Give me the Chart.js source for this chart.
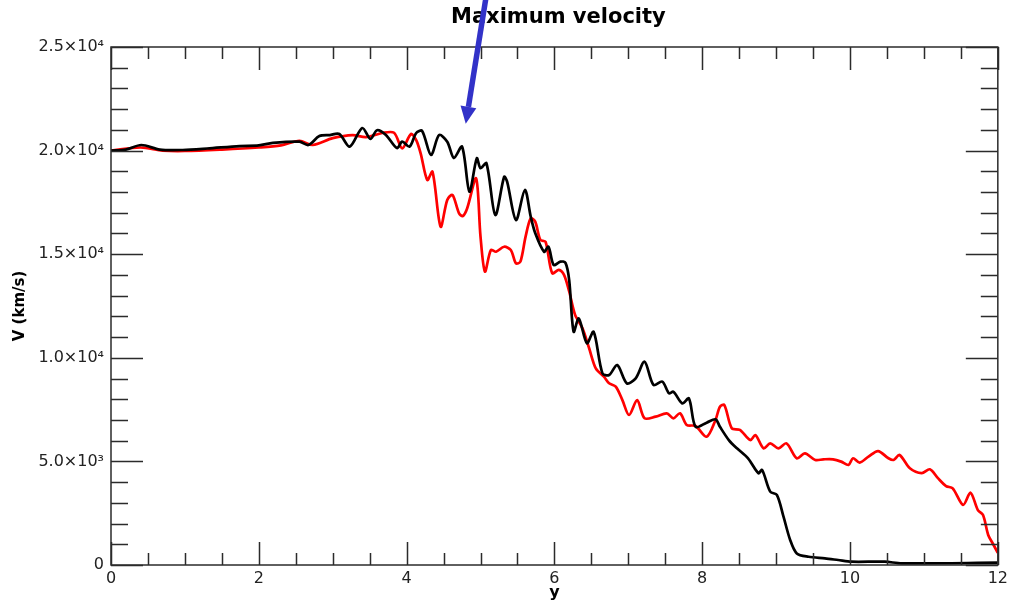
<!DOCTYPE html>
<html>
<head>
<meta charset="utf-8">
<script src="https://cdn.jsdelivr.net/npm/chart.js@4"></script>
<style>
  html, body { margin: 0; padding: 0; background: #fff; overflow: hidden; }
  canvas { display: block; }
</style>
</head>
<body>
<canvas id="velChart" width="1012" height="603"></canvas>
<script>
// ── DATA ──────────────────────────────────────────────────────────────────
const blackY = [0, 0.2, 0.41, 0.66, 0.97, 1.3, 1.74, 2.0, 2.19, 2.55, 2.67, 2.82, 2.96, 3.09, 3.23, 3.4, 3.51, 3.6,
    3.72, 3.87, 3.94, 4.04, 4.13, 4.21, 4.33, 4.44, 4.55, 4.64, 4.75, 4.85, 4.95, 5.0, 5.08, 5.2, 5.32, 5.36,
    5.48, 5.6, 5.68, 5.74, 5.86, 5.92, 5.99, 6.08, 6.15, 6.2, 6.26, 6.33, 6.44, 6.53, 6.65, 6.74, 6.85, 6.98,
    7.1, 7.22, 7.34, 7.46, 7.55, 7.61, 7.73, 7.82, 7.91, 8.06, 8.18, 8.24, 8.36, 8.47, 8.62, 8.76, 8.81, 8.92,
    9.01, 9.1, 9.19, 9.28, 9.44, 9.66, 9.84, 10.02, 10.47, 10.7, 12.0];
const blackV = [20000, 20050, 20270, 20050, 20030, 20100, 20220, 20250, 20370, 20430, 20270, 20700, 20750, 20800, 20190, 21090, 20560, 20980,
    20750, 20120, 20430, 20190, 20850, 20950, 19790, 20750, 20430, 19640, 20190, 18020, 19630, 19150, 19390, 16890, 18740, 18500,
    16650, 18100, 16810, 16020, 15120, 15360, 14480, 14640, 14580, 13750, 11260, 11900, 10700, 11260, 9250, 9170, 9650, 8770,
    9010, 9810, 8690, 8850, 8290, 8360, 7800, 8040, 6670, 6870, 7030, 6670, 6030, 5630, 5150, 4430, 4590, 3540,
    3380, 2330, 1210, 560, 400, 320, 240, 160, 160, 80, 110];

const redY = [0, 0.4, 0.7, 1.0, 1.5, 2.0, 2.3, 2.55, 2.73, 3.0, 3.27, 3.45, 3.67, 3.83, 3.94, 4.06, 4.13, 4.19, 4.28,
    4.35, 4.46, 4.55, 4.62, 4.71, 4.76, 4.82, 4.94, 5.0, 5.06, 5.14, 5.21, 5.32, 5.41, 5.48, 5.54, 5.61, 5.68,
    5.74, 5.81, 5.88, 5.97, 6.06, 6.13, 6.2, 6.28, 6.38, 6.47, 6.56, 6.67, 6.74, 6.83, 6.92, 7.01, 7.12, 7.22,
    7.37, 7.52, 7.61, 7.7, 7.79, 7.91, 8.06, 8.18, 8.24, 8.3, 8.4, 8.51, 8.65, 8.72, 8.83, 8.92, 9.03, 9.14,
    9.28, 9.39, 9.53, 9.64, 9.77, 9.88, 9.98, 10.04, 10.13, 10.25, 10.38, 10.52, 10.59, 10.67, 10.81, 10.97,
    11.08, 11.19, 11.3, 11.39, 11.53, 11.63, 11.73, 11.8, 11.87, 11.93, 12.0];
const redV = [20000, 20150, 20000, 19980, 20050, 20150, 20250, 20470, 20270, 20600, 20750, 20650, 20850, 20860, 20110, 20800, 20510, 19870, 18580,
    18980, 16330, 17620, 17860, 16970, 16840, 17220, 18660, 15850, 14160, 15200, 15120, 15360, 15200, 14560, 14640, 15850, 16730,
    16570, 15690, 15600, 14080, 14240, 14000, 13200, 12070, 11420, 10460, 9490, 9090, 8770, 8610, 7960, 7240, 7960, 7080,
    7160, 7320, 7080, 7320, 6760, 6710, 6190, 7000, 7640, 7720, 6600, 6520, 6030, 6270, 5630, 5870, 5630, 5870,
    5150, 5390, 5070, 5100, 5100, 4990, 4830, 5150, 4940, 5230, 5500, 5150, 5070, 5310, 4670, 4430,
    4620, 4190, 3810, 3700, 2900, 3490, 2650, 2410, 1450, 1050, 590];

const xTicks = [0, 2, 4, 6, 8, 10, 12];
const vTicks = [0, 5000, 10000, 15000, 20000, 25000];

const titleText = 'Maximum velocity';

// arrow annotation: tip and tail in data units
const arrowTip = { y: 4.8, v: 21300 };
const arrowTail = { y: 5.07, v: 27300 };

// ── HELPERS ───────────────────────────────────────────────────────────────
const SUP = { '0': '⁰', '1': '¹', '2': '²', '3': '³', '4': '⁴', '5': '⁵', '6': '⁶', '7': '⁷', '8': '⁸', '9': '⁹' };

function sciLabel(v) {
    if (v === 0) return '0';
    const e = Math.floor(Math.log10(v));
    const m = (v / Math.pow(10, e)).toFixed(1);
    return m + '×10' + String(e).split('').map(c => SUP[c]).join('');
}

const toPoints = (xs, vs) => xs.map((x, i) => ({ x: x, y: vs[i] }));

// frame with inward ticks on all four sides, title over the plot, blue arrow
const framePlugin = {
    id: 'frame',
    afterDatasetsDraw(chart) {
        const { ctx, chartArea: a, scales: { x, y } } = chart;
        ctx.save();
        ctx.strokeStyle = '#2b2b2b';
        ctx.lineWidth = 1.5;
        ctx.strokeRect(a.left, a.top, a.right - a.left, a.bottom - a.top);
        ctx.beginPath();
        for (let t = 0; t <= 12; t += 0.5) {
            const px = Math.round(x.getPixelForValue(t)) + 0.5;
            const len = (t % 2 === 0) ? 23 : 12;
            ctx.moveTo(px, a.bottom); ctx.lineTo(px, a.bottom - len);
            ctx.moveTo(px, a.top); ctx.lineTo(px, a.top + len);
        }
        for (let t = 0; t <= 25000; t += 1000) {
            const py = Math.round(y.getPixelForValue(t)) + 0.5;
            const len = (t % 5000 === 0) ? 32 : 17;
            ctx.moveTo(a.left, py); ctx.lineTo(a.left + len, py);
            ctx.moveTo(a.right, py); ctx.lineTo(a.right - len, py);
        }
        ctx.stroke();
        ctx.restore();
    },
    afterDraw(chart) {
        const { ctx, chartArea: a, scales: { x, y } } = chart;

        ctx.save();
        ctx.fillStyle = '#000';
        ctx.font = "bold 21px 'DejaVu Sans', sans-serif";
        ctx.textAlign = 'center';
        ctx.textBaseline = 'middle';
        ctx.fillText(titleText, (a.left + a.right) / 2 + 4, 18);
        ctx.restore();

        const tx = x.getPixelForValue(arrowTip.y), ty = y.getPixelForValue(arrowTip.v);
        const sx = x.getPixelForValue(arrowTail.y), sy = y.getPixelForValue(arrowTail.v);
        const ang = Math.atan2(ty - sy, tx - sx);
        const headLen = 17, headHalf = 8;
        const bx = tx - headLen * Math.cos(ang), by = ty - headLen * Math.sin(ang);
        ctx.save();
        ctx.strokeStyle = '#3232c8';
        ctx.fillStyle = '#3232c8';
        ctx.lineWidth = 5.5;
        ctx.beginPath();
        ctx.moveTo(sx, sy);
        ctx.lineTo(bx, by);
        ctx.stroke();
        ctx.beginPath();
        ctx.moveTo(tx, ty);
        ctx.lineTo(bx + headHalf * Math.sin(ang), by - headHalf * Math.cos(ang));
        ctx.lineTo(bx - headHalf * Math.sin(ang), by + headHalf * Math.cos(ang));
        ctx.closePath();
        ctx.fill();
        ctx.restore();
    }
};

// ── CHART ─────────────────────────────────────────────────────────────────
Chart.defaults.font.family = "'DejaVu Sans', sans-serif";
Chart.defaults.color = '#222';

new Chart(document.getElementById('velChart').getContext('2d'), {
    type: 'line',
    data: {
        datasets: [
            {
                label: 'black',
                data: toPoints(blackY, blackV),
                borderColor: '#000000',
                borderWidth: 2.7,
                pointRadius: 0,
                tension: 0.3,
                fill: false
            },
            {
                label: 'red',
                data: toPoints(redY, redV),
                borderColor: '#ff0000',
                borderWidth: 2.7,
                pointRadius: 0,
                tension: 0.3,
                fill: false
            }
        ]
    },
    options: {
        responsive: false,
        animation: false,
        layout: { padding: { top: 47, right: 12, left: 0, bottom: 0 } },
        plugins: {
            legend: { display: false },
            tooltip: { enabled: false },
            title: { display: false }
        },
        scales: {
            x: {
                type: 'linear',
                min: 0,
                max: 12,
                afterFit: s => { s.height = 38; },
                afterBuildTicks: s => { s.ticks = xTicks.map(v => ({ value: v })); },
                grid: { display: false, drawTicks: false },
                border: { display: false },
                ticks: { autoSkip: false, maxRotation: 0, padding: 4, font: { size: 16 }, color: '#222' },
                title: { display: true, text: 'y', color: '#000', font: { size: 16, weight: 'bold' }, padding: { top: 0, bottom: 1 } }
            },
            y: {
                min: 0,
                max: 25000,
                afterFit: s => { s.width = 111; },
                afterBuildTicks: s => { s.ticks = vTicks.map(v => ({ value: v })); },
                grid: { display: false, drawTicks: false },
                border: { display: false },
                ticks: { autoSkip: false, padding: 7, font: { size: 16 }, color: '#222', callback: v => sciLabel(v) },
                title: { display: true, text: 'V (km/s)', color: '#000', font: { size: 15, weight: 'bold' }, padding: { top: 11, bottom: 0 } }
            }
        }
    },
    plugins: [framePlugin]
});
</script>
</body>
</html>
